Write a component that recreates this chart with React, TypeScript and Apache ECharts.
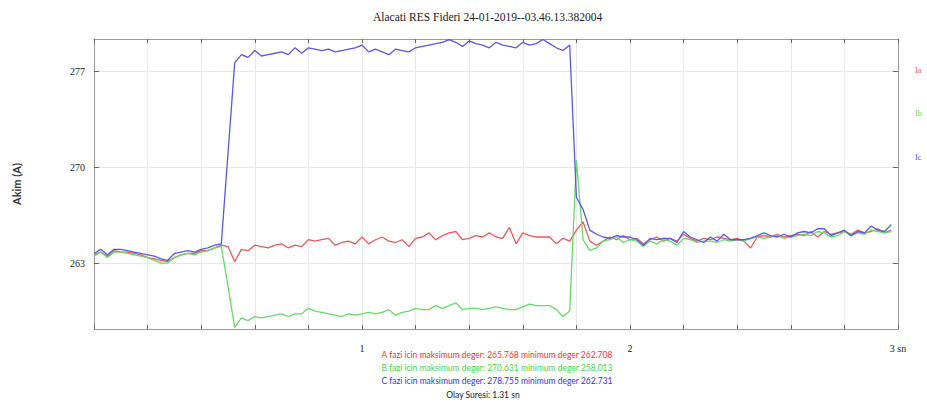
import React, { useEffect, useRef } from "react";
import * as echarts from "echarts";

const TITLE = "Alacati RES Fideri 24-01-2019--03.46.13.382004";
const Y_NAME = "Akim (A)";
const T_STEP = 0.025;
const X_LABELS: Record<string, string> = { "1": "1", "2": "2", "3": "3 sn" };
const Y_TICKS = [263, 270, 277];
const SERIES_NAMES = ["Ia", "Ib", "Ic"];
const SERIES_COLORS = ["#e85c5c", "#6ad86a", "#5a5ae0"];
const SUMMARY_LINES = [
  "A fazi icin maksimum deger: 265.768 minimum deger 262.708",
  "B fazi icin maksimum deger: 270.631 minimum deger 258.013",
  "C fazi icin maksimum deger: 278.755 minimum deger 262.731",
];
const EVENT_TEXT = "Olay Suresi: 1.31 sn";

const phaseA = [
  263.6, 263.8, 263.5, 263.9, 263.8, 263.8, 263.7, 263.6, 263.4, 263.3,
  263.2, 263.1, 263.4, 263.6, 263.7, 263.7, 263.9, 263.9, 264.1, 264.3,
  264.2, 263.1, 264.0, 263.9, 264.3, 264.2, 264.1, 264.3, 264.4, 264.1,
  264.3, 264.2, 264.7, 264.6, 264.7, 264.8, 264.3, 264.5, 264.6, 264.4,
  264.9, 264.4, 264.7, 264.9, 264.6, 264.5, 264.7, 264.2, 264.8, 264.9,
  265.2, 264.7, 265.0, 265.2, 265.3, 264.7, 264.8, 265.0, 264.9, 265.2,
  264.9, 264.8, 265.6, 264.4, 265.2, 265.0, 264.9, 264.9, 264.9, 264.4,
  264.8, 264.6, 265.4, 266.0, 264.6, 264.3, 264.6, 264.9, 264.7, 265.0,
  264.7, 264.8, 264.4, 264.7, 264.9, 264.6, 264.8, 264.6, 265.1, 264.8,
  264.6, 264.8, 264.7, 264.9, 264.8, 264.7, 264.8, 264.6, 264.1, 264.9,
  265.0, 264.9, 265.1, 264.9, 265.0, 265.1, 265.0, 265.3, 264.9, 265.3,
  265.1, 265.2, 265.3, 265.1, 265.4, 265.2, 265.3, 265.5, 265.2, 265.4,
];

const phaseB = [
  263.5, 263.8, 263.4, 263.8, 263.8, 263.7, 263.6, 263.5, 263.4, 263.2,
  263.0, 263.0, 263.4, 263.6, 263.7, 263.6, 263.8, 263.9, 264.1, 264.2,
  261.3, 258.3, 259.0, 258.8, 259.1, 259.0, 259.1, 259.2, 259.3, 259.1,
  259.3, 259.3, 259.7, 259.5, 259.4, 259.3, 259.2, 259.1, 259.3, 259.2,
  259.3, 259.4, 259.3, 259.4, 259.6, 259.2, 259.4, 259.5, 259.7, 259.6,
  259.6, 259.9, 259.7, 259.9, 260.1, 259.6, 259.7, 259.7, 259.6, 259.7,
  259.8, 259.7, 259.6, 259.6, 259.8, 260.0, 259.9, 259.9, 259.9, 259.6,
  259.1, 259.5, 270.5, 264.7, 263.9, 264.1, 264.6, 264.7, 264.9, 264.5,
  264.7, 264.6, 264.2, 264.6, 264.4, 264.7, 264.6, 264.3, 264.8, 264.7,
  264.5, 264.6, 264.6, 264.5, 264.7, 264.6, 264.7, 264.6, 264.8, 264.9,
  264.8, 264.9, 265.0, 264.8, 264.9, 265.0, 265.1, 265.0, 265.3, 265.2,
  264.9, 265.0, 265.3, 265.0, 265.2, 265.1, 265.4, 265.3, 265.2, 265.3,
];

const phaseC = [
  263.7, 264.0, 263.6, 264.0, 264.0, 263.9, 263.8, 263.7, 263.6, 263.5,
  263.3, 263.2, 263.7, 263.8, 263.9, 263.8, 264.0, 264.1, 264.3, 264.4,
  271.0, 277.6, 278.2, 278.0, 278.5, 278.1, 278.2, 278.3, 278.4, 278.2,
  278.7, 278.3, 278.7, 278.6, 278.5, 278.6, 278.4, 278.5, 278.6, 278.7,
  278.9, 278.4, 278.6, 278.4, 278.2, 278.6, 278.5, 278.4, 278.7, 278.8,
  278.9, 279.0, 279.1, 279.3, 279.1, 278.8, 279.2, 279.0, 278.9, 278.7,
  279.1, 278.9, 278.8, 278.7, 279.1, 278.9, 279.0, 279.3, 279.0, 278.7,
  278.5, 278.9, 267.8, 266.9, 265.4, 265.1, 264.9, 264.8, 265.0, 264.9,
  264.9, 264.7, 264.3, 264.8, 264.7, 264.8, 264.8, 264.5, 265.3, 264.9,
  264.7, 264.5, 264.9, 264.6, 265.1, 264.7, 264.7, 264.7, 264.8, 265.0,
  265.2, 265.0, 264.9, 265.1, 264.9, 265.2, 265.3, 265.2, 265.5, 265.5,
  265.0, 265.2, 265.4, 265.0, 265.3, 265.2, 265.7, 265.4, 265.3, 265.8,
];

const ALL = [phaseA, phaseB, phaseC];

export default function App() {
  const ref = useRef<HTMLDivElement>(null);
  useEffect(() => {
    if (!ref.current) return;
    document.body.style.margin = "0";
    const chart = echarts.init(ref.current, undefined, { renderer: "svg" });
    const frame = "#9a9a9a";
    const grid = "#e8e8e8";
    const serif = "'Liberation Serif', 'DejaVu Serif', serif";
    const sans = "Lato, 'Liberation Sans', sans-serif";
    const labelFmt = (v: number) => {
      const k = String(Math.round(v * 1000) / 1000);
      return X_LABELS[k] ?? "";
    };
    chart.setOption({
      animation: false,
      backgroundColor: "#ffffff",
      grid: { left: 94, right: 29, top: 39, bottom: 85 },
      xAxis: [
        {
          type: "value",
          min: 0,
          max: 3,
          interval: 0.2,
          axisLine: { show: true, onZero: false, lineStyle: { color: frame, width: 1 } },
          axisTick: { show: true, inside: true, length: 4, lineStyle: { color: "#666" } },
          splitLine: { show: true, lineStyle: { color: grid, width: 1 } },
          axisLabel: {
            formatter: labelFmt,
            margin: 14,
            color: "#222",
            fontFamily: serif,
            fontSize: 10,
            showMinLabel: true,
            showMaxLabel: true,
          },
        },
        {
          type: "value",
          position: "top",
          min: 0,
          max: 3,
          interval: 0.2,
          axisLine: { show: true, onZero: false, lineStyle: { color: frame, width: 1 } },
          axisTick: { show: true, inside: true, length: 4, lineStyle: { color: "#666" } },
          splitLine: { show: false },
          axisLabel: { show: false },
        },
      ],
      yAxis: [
        {
          type: "value",
          min: 258.19,
          max: 279.34,
          name: Y_NAME,
          nameLocation: "middle",
          nameGap: 72,
          nameTextStyle: { fontFamily: sans, fontSize: 11, fontWeight: "bold", color: "#333" },
          axisLine: { show: true, onZero: false, lineStyle: { color: frame, width: 1 } },
          axisTick: {
            show: true,
            inside: true,
            length: 5,
            customValues: Y_TICKS,
            lineStyle: { color: "#666" },
          },
          splitLine: { show: true, lineStyle: { color: grid, width: 1 } },
          axisLabel: {
            customValues: Y_TICKS,
            margin: 9,
            color: "#222",
            fontFamily: serif,
            fontSize: 10,
          },
        },
        {
          type: "value",
          position: "right",
          min: 258.19,
          max: 279.34,
          axisLine: { show: true, onZero: false, lineStyle: { color: frame, width: 1 } },
          axisTick: {
            show: true,
            inside: true,
            length: 5,
            customValues: Y_TICKS,
            lineStyle: { color: "#666" },
          },
          splitLine: { show: false },
          axisLabel: { show: false },
        },
      ],
      title: {
        text: TITLE,
        left: 368,
        top: 6,
        textStyle: { fontFamily: serif, fontSize: 11.5, fontWeight: "normal", color: "#222" },
      },
      graphic: [
        ...SERIES_NAMES.map((n, i) => ({
          type: "text",
          x: 915,
          y: [70, 113, 157][i],
          style: {
            text: n,
            fill: SERIES_COLORS[i],
            font: `8.5px ${serif}`,
            textAlign: "left",
            textVerticalAlign: "middle",
          },
        })),
        ...SUMMARY_LINES.map((s, i) => ({
          type: "text",
          x: 497,
          y: [355, 368, 381][i],
          style: {
            text: s,
            fill: ["#e53a3a", "#44d844", "#3535dc"][i],
            font: `8.5px ${sans}`,
            textAlign: "center",
            textVerticalAlign: "middle",
          },
        })),
        {
          type: "text",
          x: 483,
          y: 395,
          style: {
            text: EVENT_TEXT,
            fill: "#222",
            font: `8.5px ${sans}`,
            textAlign: "center",
            textVerticalAlign: "middle",
          },
        },
      ],
      series: ALL.map((vals, si) => ({
        type: "line",
        name: SERIES_NAMES[si],
        xAxisIndex: 0,
        yAxisIndex: 0,
        showSymbol: false,
        symbol: "none",
        lineStyle: { color: SERIES_COLORS[si], width: 1.3 },
        data: vals.map((v, i) => [Math.round(i * T_STEP * 1000) / 1000, v]),
      })),
    });
    return () => chart.dispose();
  }, []);
  return <div ref={ref} style={{ width: 927, height: 414 }} />;
}
